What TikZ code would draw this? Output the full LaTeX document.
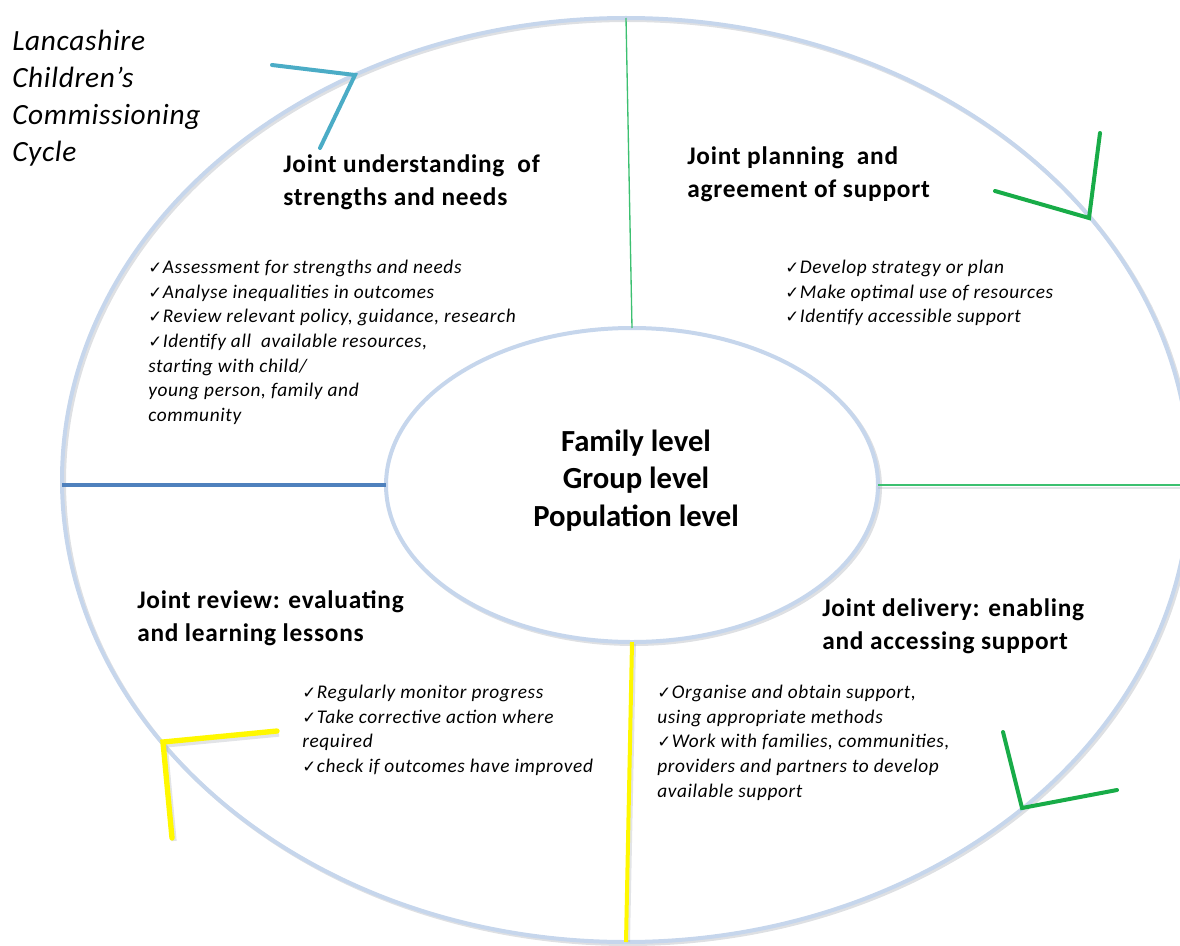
\documentclass[tikz,border=0pt]{standalone}
\usepackage{fontspec}
\setmainfont{Carlito}
\newfontfamily\symfont{DejaVu Sans}
\usetikzlibrary{shapes.geometric}

% cycle colours
\definecolor{ringblue}{RGB}{198,214,236}
\definecolor{ringshade}{RGB}{160,165,175}
\definecolor{tealc}{RGB}{75,172,198}
\definecolor{greenc}{RGB}{24,172,72}
\definecolor{thingreen}{RGB}{60,192,112}
\definecolor{bluec}{RGB}{79,129,189}
\definecolor{yellowc}{RGB}{255,248,0}

% small tick in front of each action point
\newcommand{\tick}{{\symfont\fontsize{12.5}{12.5}\selectfont ✓}\hspace{0.5pt}}

\tikzset{
  ring/.style={ellipse, draw=ringblue, line width=3pt, inner sep=0pt, outer sep=0pt},
  ringshadow/.style={draw=ringshade, opacity=0.35, line width=3pt},
  heading/.style={anchor=north west, align=left, inner sep=0pt,
    font=\bfseries\fontsize{19}{24.75}\selectfont\addfontfeature{LetterSpace=3}},
  points/.style={anchor=north west, align=left, inner sep=0pt,
    font=\itshape\fontsize{14.5}{18.5}\selectfont\addfontfeature{LetterSpace=3.3}},
  titletext/.style={anchor=north west, align=left, inner sep=0pt,
    font=\itshape\fontsize{22}{27.75}\selectfont\addfontfeature{LetterSpace=2.3}},
  levels/.style={anchor=north, align=center, inner sep=0pt,
    font=\bfseries\fontsize{23}{28}\selectfont},
  chevron/.style={line width=3pt, line cap=round, line join=miter},
  lineshadow/.style={draw=ringshade, opacity=0.3},
}

\begin{document}
\begin{tikzpicture}[x=0.75pt, y=-0.75pt]
\useasboundingbox (0,0) rectangle (1180,945);

% soft shadows under the two rings
\draw[ringshadow] (628,482) ellipse [x radius=564, y radius=462];
\draw[ringshadow] (634,487) ellipse [x radius=246, y radius=157];

% outer cycle and inner hub
\node[ring, minimum width=846pt, minimum height=693pt] (outer) at (626,480) {};
\node[ring, fill=white, minimum width=369pt, minimum height=235.5pt] (inner) at (632,485) {};

% quadrant dividers
\draw[thingreen, line width=1pt] (outer.north) -- (inner.north);
\draw[lineshadow, line width=2pt] ([shift={(0,3)}]inner.east) -- ([shift={(0,3)}]inner.east -| outer.east);
\draw[thingreen, line width=1.6pt] (inner.east) -- (inner.east -| outer.east);
\draw[bluec, line width=2.4pt] (outer.west |- inner.west) -- (inner.west);
\draw[lineshadow, line width=3pt] ([shift={(2,2)}]inner.south) -- ([shift={(2,0)}]outer.south);
\draw[yellowc, line width=3pt] (inner.south) -- (outer.south);

% direction chevrons on the outer ring
\coordinate (tl) at (355,75);
\coordinate (tr) at (1089,218);
\coordinate (br) at (1022,808);
\coordinate (bl) at (163,742);
\draw[chevron, tealc] (272,65) -- (tl) -- (320,148);
\draw[chevron, greenc] (1100,133) -- (tr) -- (995,191);
\draw[chevron, greenc] (1003,732) -- (br) -- (1117,790);
\draw[lineshadow, line width=4pt] (279,734) -- (165,745) -- (174,841);
\draw[chevron, yellowc, line width=4pt] (277,731) -- (bl) -- (172,838);

% title
\node[titletext] (title) at (12,24) {\strut Lancashire\\Children’s\\Commissioning\\Cycle};

% centre of the cycle
\node[levels] (lv) at (636,425) {\strut Family level\\Group level\\Population level};

% stage headings
\node[heading] (h1) at (283,149) {\strut Joint understanding\ \ of\\strengths and needs};
\node[heading] (h2) at (687,141) {\strut Joint planning\ \ and\\agreement of support};
\node[heading] (h3) at (137,585) {\strut Joint review: evaluating\\and learning lessons};
\node[heading] (h4) at (822,593) {\strut Joint delivery: enabling\\and accessing support};

% action points for each stage
\node[points] (p1) at (148,256) {\strut\tick Assessment for strengths and needs\\
  \tick Analyse inequalities in outcomes\\
  \tick Review relevant policy, guidance, research\\
  \tick Identify all\ \ available resources,\\
  starting with child/\\
  young person, family and\\
  community};
\node[points] (p2) at (785,256) {\strut\tick Develop strategy or plan\\
  \tick Make optimal use of resources\\
  \tick Identify accessible support};
\node[points] (p3) at (302,681) {\strut\tick Regularly monitor progress\\
  \tick Take corrective action where\\
  required\\
  \tick check if outcomes have improved};
\node[points] (p4) at (657,681) {\strut\tick Organise and obtain support,\\
  using appropriate methods\\
  \tick Work with families, communities,\\
  providers and partners to develop\\
  available support};
\end{tikzpicture}
\end{document}
